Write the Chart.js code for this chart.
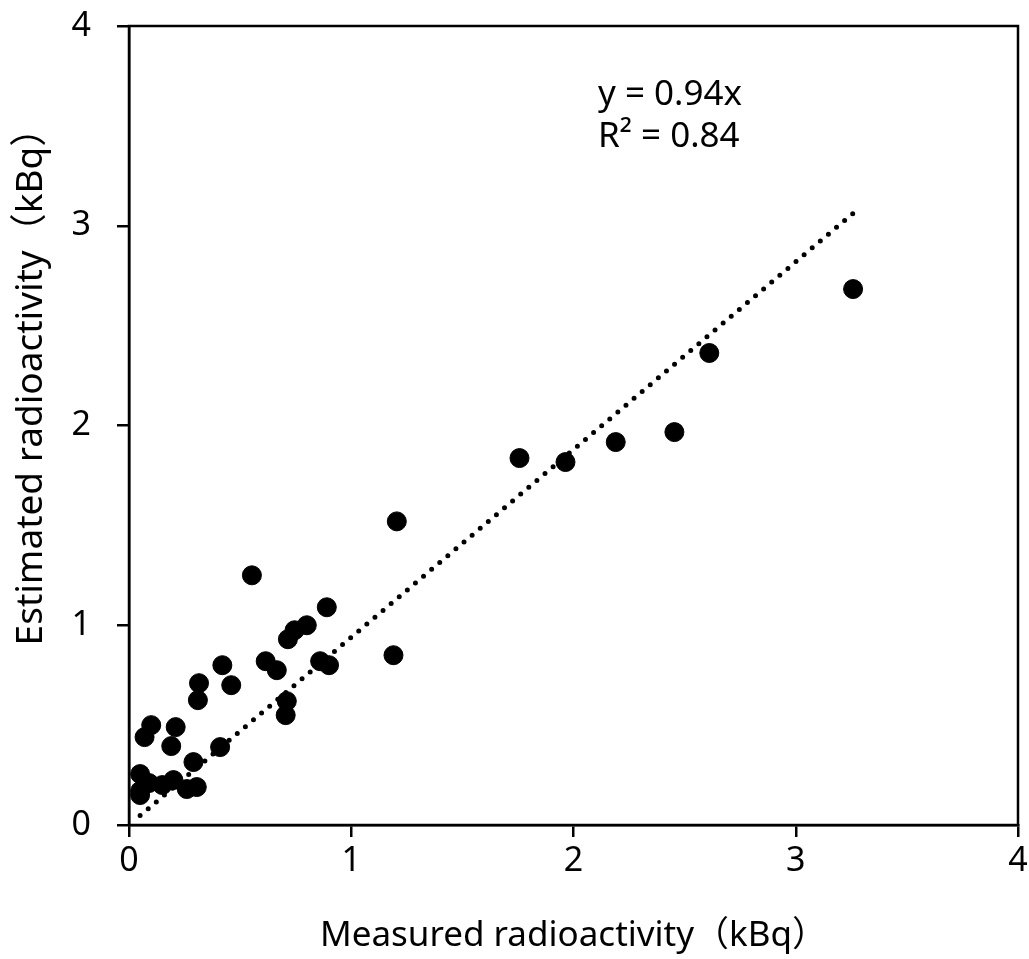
<!DOCTYPE html>
<html>
<head>
<meta charset="UTF-8">
<title>Measured vs estimated radioactivity</title>
<script src="https://cdn.jsdelivr.net/npm/chart.js"></script>
<style>
	html, body { margin: 0; padding: 0; background: #fff; }
	#chartArea { width: 1029px; height: 959px; }
</style>
<script>
	// measured (x) and estimated (y) radioactivity, kBq
	var measured = [0.05, 0.05, 0.05, 0.09, 0.15, 0.20, 0.26, 0.305, 0.29,
		0.07, 0.10, 0.19, 0.21, 0.41, 0.315, 0.31, 0.42, 0.46,
		0.615, 0.665, 0.71, 0.705, 0.86, 0.90, 0.89, 0.80, 0.745, 0.715,
		1.19, 0.553, 1.205, 1.757, 1.964, 2.19, 2.454, 2.611, 3.258];
	var estimated = [0.255, 0.17, 0.15, 0.21, 0.20, 0.225, 0.18, 0.19, 0.315,
		0.44, 0.50, 0.395, 0.49, 0.39, 0.71, 0.625, 0.80, 0.70,
		0.82, 0.775, 0.62, 0.55, 0.82, 0.80, 1.09, 1.00, 0.975, 0.93,
		0.85, 1.25, 1.52, 1.837, 1.817, 1.917, 1.967, 2.363, 2.683];

	// linear trend line y = 0.94x, drawn between these ends
	var trendX = [0.05, 3.26];
	var trendY = [0.047, 3.064];

	var ticks = [0, 1, 2, 3, 4];
	var fitText = ['y = 0.94x', 'R² = 0.84'];
	var yTitle = 'Estimated radioactivity（kBq）';
	var xTitle = 'Measured radioactivity（kBq）';
</script>
</head>
<body>
	<div id="chartArea">
		<canvas id="myChart" width="1029" height="959"></canvas>
	</div>
<script>
	var fontFam = '"Noto Sans", "Noto Sans CJK JP", sans-serif';

	// box round the plot area, the y title and the fit equation
	var framePlugin = {
		id: 'frame',
		afterDraw: function(chart) {
			var c = chart.ctx, a = chart.chartArea;
			var xs = chart.scales.x, ys = chart.scales.y;
			c.save();
			c.strokeStyle = '#000';
			c.lineWidth = 2.5;
			c.strokeRect(a.left, a.top, a.right - a.left, a.bottom - a.top);
			c.fillStyle = '#000';
			c.textBaseline = 'middle';
			c.font = '35px ' + fontFam;
			c.fillText(fitText[0], xs.getPixelForValue(2.11), ys.getPixelForValue(3.655));
			c.fillText(fitText[1], xs.getPixelForValue(2.11), ys.getPixelForValue(3.445));
			// y title sits a bit above the middle of the axis
			c.font = '37px ' + fontFam;
			c.textAlign = 'center';
			c.translate(31, ys.getPixelForValue(2.24));
			c.rotate(-Math.PI / 2);
			c.fillText(yTitle, 0, 0);
			c.restore();
		}
	};

	var pts = measured.map(function(v, i) { return {x: v, y: estimated[i]}; });
	var trend = trendX.map(function(v, i) { return {x: v, y: trendY[i]}; });

	var axisCommon = {
		type: 'linear',
		min: 0,
		max: 4,
		afterBuildTicks: function(s) { s.ticks = ticks.map(function(v) { return {value: v}; }); },
		grid: {
			drawOnChartArea: false,
			drawTicks: true,
			tickLength: 12,
			color: '#000',
			lineWidth: 2.5
		},
		border: { color: '#000', width: 2.5 }
	};

	var ctx = document.getElementById('myChart').getContext('2d');
	var myChart = new Chart(ctx, {
		type: 'scatter',
		data: {
			datasets: [{
				data: pts,
				backgroundColor: '#000',
				borderColor: '#000',
				pointRadius: 9.5,
				pointHoverRadius: 9.5
			}, {
				type: 'line',
				data: trend,
				borderColor: '#000',
				borderWidth: 5,
				borderDash: [0, 10.6],
				borderCapStyle: 'round',
				pointRadius: 0,
				fill: false
			}]
		},
		options: {
			responsive: false,
			animation: false,
			layout: { padding: { top: 26, right: 11, left: 0, bottom: 0 } },
			plugins: { legend: { display: false }, tooltip: { enabled: false } },
			scales: {
				x: Object.assign({}, axisCommon, {
					position: 'bottom',
					afterFit: function(s) { s.height = 134; s.paddingLeft = 0; s.paddingRight = 0; },
					ticks: { color: '#000', padding: 4, font: { size: 34, family: fontFam } },
					title: {
						display: true,
						text: xTitle,
						color: '#000',
						font: { size: 35, family: fontFam },
						padding: { top: 4, bottom: 2 }
					}
				}),
				y: Object.assign({}, axisCommon, {
					position: 'left',
					afterFit: function(s) { s.width = 129; s.paddingTop = 0; s.paddingBottom = 0; },
					ticks: { color: '#000', padding: 26, font: { size: 34, family: fontFam } },
					title: { display: false }
				})
			}
		},
		plugins: [framePlugin]
	});
</script>
</body>
</html>
